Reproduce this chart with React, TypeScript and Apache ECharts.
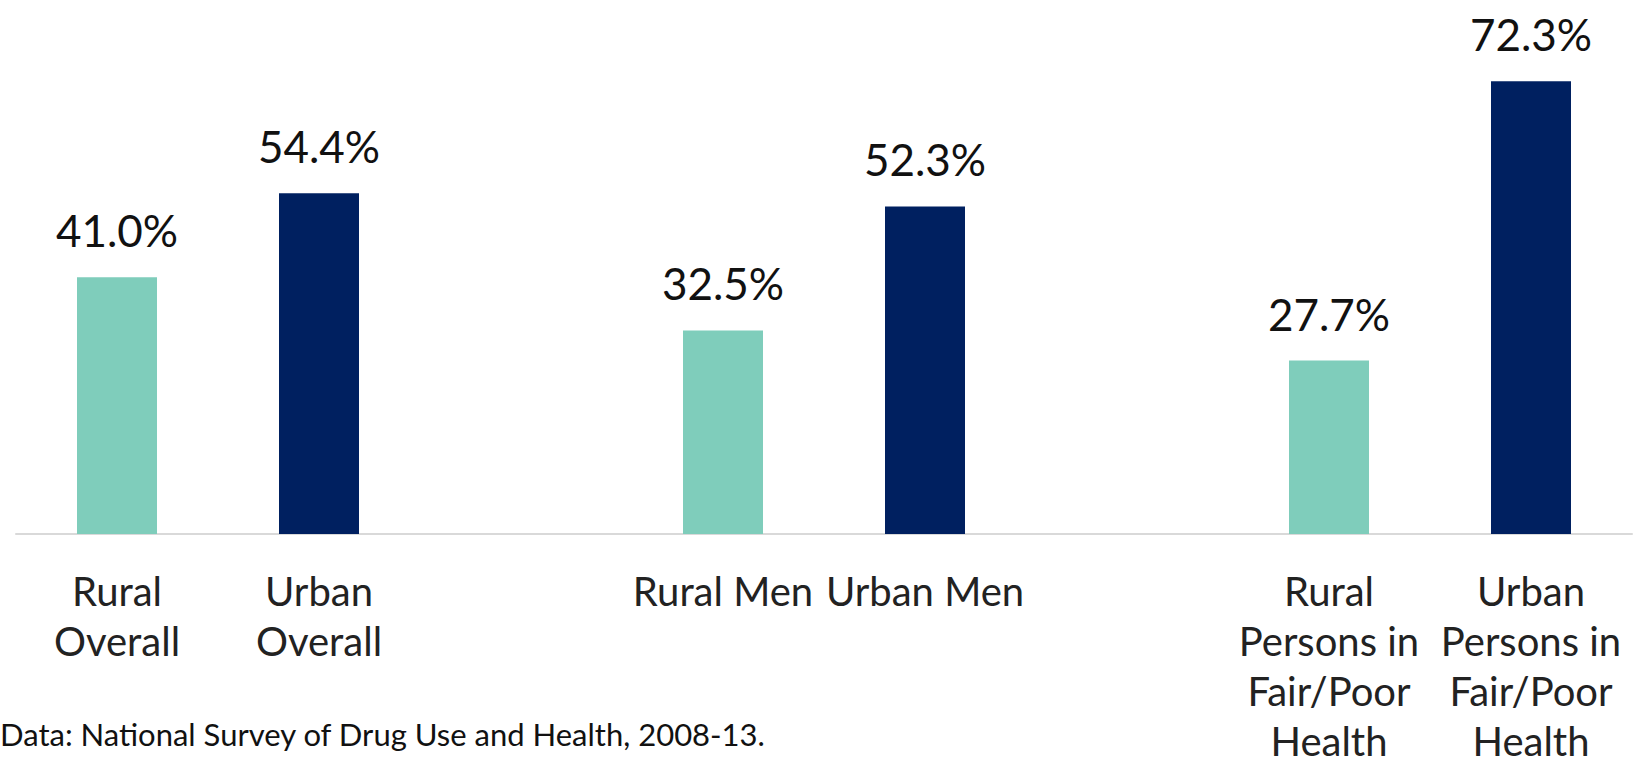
import React, { useEffect, useRef } from "react";
import * as echarts from "echarts";

const categories = [
  "Rural\nOverall",
  "Urban\nOverall",
  "",
  "Rural Men",
  "Urban Men",
  "",
  "Rural\nPersons in\nFair/Poor\nHealth",
  "Urban\nPersons in\nFair/Poor\nHealth",
];
const ruralValues = [41.0, null, null, 32.5, null, null, 27.7, null];
const urbanValues = [null, 54.4, null, null, 52.3, null, null, 72.3];
const footnote = "Data: National Survey of Drug Use and Health, 2008-13.";

const RURAL_COLOR = "#7FCDBB";
const URBAN_COLOR = "#002060";
const FONT = "Lato";

export default function App() {
  const ref = useRef<HTMLDivElement>(null);
  useEffect(() => {
    document.body.style.margin = "0";
    const chart = echarts.init(ref.current!, null, { renderer: "svg" });
    const label = {
      show: true,
      position: "top",
      distance: 25,
      fontFamily: FONT,
      fontSize: 44,
      color: "#111",
      formatter: (p: any) => (p.value == null ? "" : Number(p.value).toFixed(1) + "%"),
    };
    chart.setOption({
      animation: false,
      grid: { left: 16, right: 4, top: 33, bottom: 230, containLabel: false },
      xAxis: {
        type: "category",
        data: categories,
        axisTick: { show: false },
        axisLine: { lineStyle: { color: "#D9D9D9", width: 2 } },
        axisLabel: {
          interval: 0,
          margin: 32,
          fontFamily: FONT,
          fontSize: 40,
          lineHeight: 50,
          color: "#222",
        },
      },
      yAxis: { type: "value", min: 0, max: 80, show: false, splitLine: { show: false } },
      series: [
        {
          name: "Rural",
          type: "bar",
          stack: "s",
          barWidth: 80,
          data: ruralValues,
          itemStyle: { color: RURAL_COLOR },
          label,
        },
        {
          name: "Urban",
          type: "bar",
          stack: "s",
          barWidth: 80,
          data: urbanValues,
          itemStyle: { color: URBAN_COLOR },
          label,
        },
      ],
      graphic: [
        {
          type: "text",
          left: 0,
          top: 718,
          style: { text: footnote, fontFamily: FONT, fontSize: 31, fill: "#111" },
        },
      ],
    });
    return () => chart.dispose();
  }, []);
  return <div ref={ref} style={{ width: 1636, height: 766 }} />;
}
